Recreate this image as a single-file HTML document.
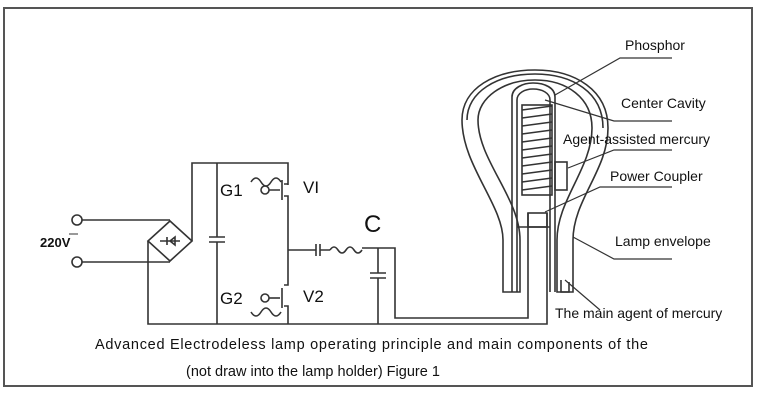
<!DOCTYPE html>
<html><head><meta charset="utf-8"><style>
html,body{margin:0;padding:0;background:#fff}
svg{display:block}
text{font-family:"Liberation Sans",Arial,sans-serif;fill:#111}
</style></head><body>
<svg width="760" height="400" viewBox="0 0 760 400" xmlns="http://www.w3.org/2000/svg">
<rect x="4" y="8" width="748" height="378" fill="#fff" stroke="#555" stroke-width="2"/>
<g fill="none" stroke="#333" stroke-width="1.6">
<circle cx="77" cy="220" r="5"/><circle cx="77" cy="262" r="5"/>
<path d="M82 220H170M82 262H170"/>
<path d="M148 241L170 221L192 241L170 261Z"/>
<path d="M160 241H180M167 237V245M170 241L175 237V245Z"/>
<path d="M192 241V163H288V185"/>
<path d="M148 241V324H400"/>
<path d="M217 163V237M217 242V324M209 237H225M209 242H225"/>
<circle cx="265" cy="190" r="4"/>
<path d="M269 190H280M282 180V200M284 184H288M284 196H288V250"/>
<path d="M251 182q5-8 10 0t10 0t10 0"/>
<path d="M288 250V285H284M284 306H288V324M282 288V308"/>
<circle cx="265" cy="298" r="4"/>
<path d="M269 298H280"/>
<path d="M251 312q5 8 10 0t10 0t10 0"/>
<path d="M288 250H316M316 244V256M320 244V256M320 250H330"/>
<path d="M330 250q4-6 8 0t8 0t8 0t8 0"/>
<path d="M362 248H395V318H528V213M378 248V273M378 278V324M370 273H386M370 278H386M400 324H547V213"/>
<path d="M503 292V240C503 205 462 165 462 120C462 88 495 70 535 70C575 70 608 90 608 128C608 170 573 200 573 240V292H557V240C557 200 592 168 592 128C592 98 567 80 535 80C503 80 478 98 478 120C478 160 520 198 520 240V292Z"/>
<path d="M467 120C467 92 497 74 535 74C572 74 603 92 603 128"/>
<path d="M512 292V97C512 88 523 83 533 83C545 83 555 88 555 97V292"/>
<path d="M517 292V100C517 93 525 89 533 89C542 89 550 93 550 100V292"/>
<rect x="522" y="105" width="30" height="90"/>
<path d="M522 110L552 106M522 118L552 114M522 126L552 122M522 134L552 130M522 142L552 138M522 150L552 146M522 158L552 154M522 166L552 162M522 174L552 170M522 182L552 178M522 190L552 186"/>
<path d="M517 227H550"/>
<rect x="528" y="213" width="19" height="14"/>
<rect x="555" y="162" width="12" height="28"/>
<path d="M561 280V292H569V282"/>
<path d="M555 95L620 58H672M545 100L614 121H672M568 168L614 150H672M545 212L600 187H672M573 237L614 259H672M565 280L600 310" stroke-width="1.2"/>
</g>
<text x="40" y="247" font-size="13" font-weight="bold" font-family="Liberation Serif">220V</text>
<path d="M69 234H78" stroke="#333" stroke-width="1"/>
<text x="220" y="196" font-size="17">G1</text>
<text x="303" y="193" font-size="17">VI</text>
<text x="220" y="304" font-size="17">G2</text>
<text x="303" y="302" font-size="17">V2</text>
<text x="364" y="232" font-size="24">C</text>
<text x="625" y="50" font-size="14">Phosphor</text>
<text x="621" y="108" font-size="14">Center Cavity</text>
<text x="563" y="144" font-size="14">Agent-assisted mercury</text>
<text x="610" y="181" font-size="14">Power Coupler</text>
<text x="615" y="246" font-size="14">Lamp envelope</text>
<text x="555" y="318" font-size="14">The main agent of mercury</text>
<text x="95" y="349" font-size="14.5" textLength="553">Advanced Electrodeless lamp operating principle and main components of the</text>
<text x="186" y="376" font-size="14.5">(not draw into the lamp holder) Figure 1</text>
</svg>
</body></html>
